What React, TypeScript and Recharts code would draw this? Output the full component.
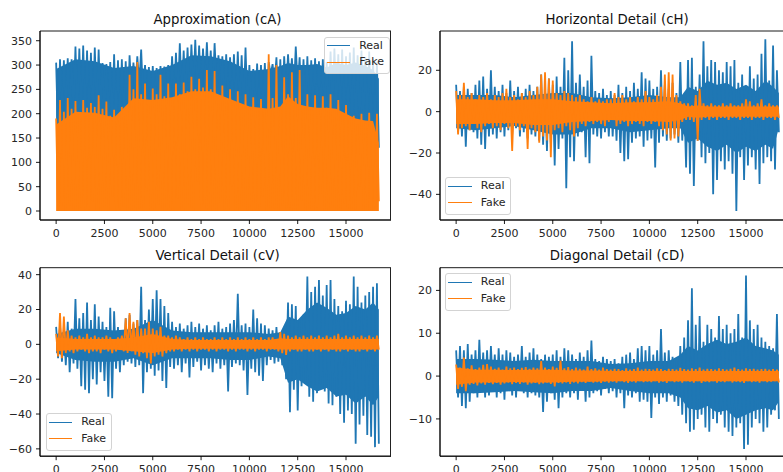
import React from 'react';
import { ComposedChart, Area, XAxis, YAxis, ReferenceArea, Legend } from 'recharts';

const FONT = '"DejaVu Sans", "Liberation Sans", sans-serif';
const REAL_COLOR = '#1f77b4';
const FAKE_COLOR = '#ff7f0e';
const TEXT = '#262626';

// each block of 200 samples is drawn as its high then its low value
const BLOCK = 200;
// sample positions where the dense core band of each signal is read
const BAND_X = [
  0, 1000, 2000, 3000, 4000, 5000, 6000, 7000, 8000, 9000, 10000, 11000, 11600,
  12000, 12500, 13000, 13500, 14000, 14500, 15000, 15500, 16000, 16400, 16700,
];

const X_TICKS = [0, 2500, 5000, 7500, 10000, 12500, 15000];
const X_DOMAIN: [number, number] = [-835, 17535];

// ---- Approximation (cA)
const cA_realHi = [
  305, 312, 310, 314, 312, 338, 334, 340, 330, 325,
  336, 332, 304, 302, 306, 322, 310, 312, 308, 320,
  305, 318, 332, 300, 296, 298, 294, 298, 297, 300,
  318, 325, 345, 330, 336, 342, 352, 340, 334, 347,
  330, 345, 320, 318, 322, 316, 322, 328, 320, 336,
  300, 292, 303, 300, 304, 306, 302, 316, 312, 318,
  322, 314, 338, 316, 312, 318, 310, 314, 308, 312,
  306, 328, 334, 322, 332, 318, 326, 336, 320, 330,
  316, 328, 312, 305,
];
const cA_realLo = [
  150, 190, 200, 196, 200, 194, 196, 190, 184, 192,
  200, 206, 198, 192, 180, 176, 176, 184, 186, 240,
  250, 260, 230, 220, 210, 220, 236, 246, 230, 222,
  224, 230, 232, 230, 238, 244, 240, 236, 250, 256,
  240, 254, 226, 222, 220, 218, 214, 212, 208, 206,
  202, 200, 204, 198, 198, 280, 260, 196, 198, 240,
  250, 240, 256, 208, 204, 206, 204, 206, 202, 204,
  202, 208, 204, 196, 190, 186, 180, 166, 170, 172,
  170, 171, 170, 130,
];
const cA_fakeHi = [
  190, 228, 204, 232, 210, 226, 200, 228, 212, 222,
  214, 238, 210, 225, 196, 208, 190, 214, 198, 280,
  250, 306, 240, 262, 220, 252, 240, 280, 236, 262,
  232, 262, 240, 264, 246, 276, 250, 272, 254, 290,
  250, 288, 232, 258, 228, 250, 224, 246, 220, 240,
  214, 234, 210, 230, 206, 322, 232, 300, 212, 275,
  240, 285, 232, 290, 214, 240, 212, 238, 210, 236,
  212, 240, 206, 228, 200, 218, 190, 196, 178, 200,
  182, 202, 176, 200,
];
const cA_fakeLo = [
  0, 4, 1, 12, 2, 0, 8, 3, 0, 20,
  2, 0, 6, 1, 30, 0, 3, 10, 0, 2,
  0, 5, 1, 40, 0, 2, 14, 0, 3, 1,
  0, 25, 2, 0, 6, 1, 60, 0, 4, 2,
  1, 0, 18, 3, 0, 45, 2, 0, 8, 1,
  0, 3, 1, 30, 0, 2, 5, 0, 12, 1,
  3, 0, 1, 22, 0, 4, 2, 0, 35, 1,
  0, 6, 2, 0, 15, 1, 0, 3, 50, 0,
  2, 0, 4, 20,
];
const cA_realBandHi = [292, 312, 308, 294, 298, 288, 300, 320, 318, 308, 288, 292, 298, 304, 300, 300, 302, 295, 304, 300, 305, 298, 290, 272];
const cA_realBandLo = [165, 190, 188, 178, 215, 212, 218, 230, 230, 215, 200, 195, 200, 220, 205, 200, 200, 198, 196, 185, 175, 172, 165, 130];
const cA_fakeBandHi = [178, 204, 202, 192, 232, 228, 234, 246, 246, 230, 215, 210, 215, 236, 220, 215, 212, 212, 210, 200, 190, 186, 185, 140];
const cA_fakeBandLo = [0, 0, 0, 0, 0, 0, 0, 0, 0, 0, 0, 0, 0, 0, 0, 0, 0, 0, 0, 0, 0, 0, 0, 0];

// ---- Horizontal Detail (cH)
const cH_realHi = [
  13, 10, 12, 11, 9, 13, 15, 17, 11, 20,
  12, 10, 13, 9, 15, 10, 12, 9, 11, 13,
  10, 12, 18, 11, 16, 13, 17, 12, 26, 20,
  34, 14, 18, 12, 15, 27, 10, 9, 11, 8,
  10, 8, 13, 9, 12, 10, 14, 11, 19, 16,
  15, 11, 12, 20, 13, 11, 14, 9, 24, 7,
  25, 26, 12, 18, 34, 22, 25, 24, 20, 19,
  24, 22, 25, 14, 18, 12, 22, 16, 18, 28,
  35, 15, 32, 20,
];
const cH_realLo = [
  -10, -12, -17, -9, -10, -13, -16, -18, -12, -11,
  -13, -10, -12, -9, -11, -8, -12, -10, -13, -11,
  -12, -14, -16, -19, -15, -26, -18, -13, -37, -22,
  -24, -12, -10, -22, -25, -11, -12, -13, -10, -12,
  -12, -14, -20, -24, -23, -15, -13, -12, -17, -14,
  -13, -27, -15, -12, -14, -13, -11, -15, -14, -27,
  -30, -36, -14, -22, -25, -20, -40, -33, -24, -28,
  -24, -30, -48, -22, -33, -26, -22, -28, -35, -25,
  -22, -24, -28, -10,
];
const cH_fakeHi = [
  10, 8, 14, 7, 9, 6, 8, 7, 9, 6,
  8, 7, 9, 11, 7, 8, 6, 9, 7, 10,
  8, 12, 18, 19, 16, 15, 9, 8, 10, 9,
  8, 7, 8, 6, 5, 7, 5, 6, 5, 6,
  6, 9, 7, 8, 6, 7, 5, 7, 6, 10,
  7, 6, 8, 12, 18, 19, 18, 8, 5, 4,
  4, 3, 8, 11, 4, 3, 4, 3, 3, 4,
  3, 4, 3, 3, 4, 6, 5, 3, 4, 6,
  3, 4, 3, 3,
];
const cH_fakeLo = [
  -11, -8, -7, -9, -6, -8, -10, -7, -6, -8,
  -7, -9, -6, -8, -19, -7, -9, -7, -18, -8,
  -10, -15, -12, -14, -22, -9, -8, -10, -7, -9,
  -12, -8, -6, -7, -5, -6, -5, -6, -7, -5,
  -4, -7, -6, -5, -7, -6, -5, -6, -7, -5,
  -6, -5, -7, -9, -11, -14, -13, -12, -5, -4,
  -4, -5, -14, -4, -3, -4, -3, -4, -3, -3,
  -4, -3, -3, -4, -3, -3, -4, -3, -3, -4,
  -3, -3, -4, -3,
];
const cH_realBandHi = [8, 8, 8, 7, 8, 9, 9, 7, 6.5, 7, 8, 7, 7, 12, 10, 15, 13, 14, 11, 13, 10, 15, 12, 9];
const cH_realBandLo = [-8, -9, -8, -7, -9, -11, -11, -8, -8, -10, -9, -8, -8, -15, -13, -17, -19, -16, -20, -17, -19, -16, -18, -8];
const cH_fakeBandHi = [6, 6, 5.5, 5.5, 6, 6, 5, 4.5, 4, 4.5, 4.5, 5, 4, 2.5, 3, 2.5, 2.5, 2.5, 2.5, 2.5, 2.5, 2.5, 2.5, 2.5];
const cH_fakeBandLo = [-6, -6, -5.5, -5.5, -6.5, -6.5, -5, -4.5, -4, -4.5, -4.5, -5, -4, -2.5, -3, -2.5, -2.5, -2.5, -2.5, -2.5, -2.5, -2.5, -2.5, -2.5];

// ---- Vertical Detail (cV)
const cV_realHi = [
  10, 11, 8, 13, 9, 26, 15, 18, 24, 14,
  23, 16, 13, 10, 21, 19, 10, 8, 15, 17,
  12, 14, 33, 14, 20, 26, 31, 26, 22, 18,
  13, 10, 12, 9, 11, 13, 10, 12, 9, 11,
  8, 11, 13, 9, 10, 12, 14, 29, 11, 12,
  10, 20, 15, 12, 11, 9, 8, 10, 7, 9,
  24, 23, 22, 14, 17, 39, 30, 33, 37, 28,
  34, 37, 26, 22, 19, 25, 23, 39, 33, 24,
  28, 30, 33, 35,
];
const cV_realLo = [
  -8, -10, -12, -16, -11, -14, -24, -26, -28, -20,
  -23, -16, -21, -30, -31, -14, -16, -12, -10, -11,
  -13, -12, -28, -16, -14, -18, -15, -21, -25, -13,
  -14, -12, -16, -11, -19, -13, -10, -15, -12, -14,
  -16, -11, -14, -12, -27, -13, -11, -12, -15, -29,
  -14, -16, -18, -21, -12, -9, -11, -10, -12, -20,
  -39, -26, -38, -24, -22, -30, -33, -28, -23, -27,
  -34, -35, -30, -40, -45, -38, -40, -57, -46, -41,
  -52, -53, -59, -57,
];
const cV_fakeHi = [
  6, 18, 16, 8, 5, 4, 5, 4, 6, 4,
  5, 4, 4, 5, 4, 3, 4, 5, 15, 18,
  13, 14, 9, 9, 13, 9, 8, 10, 5, 5,
  4, 5, 4, 3, 4, 3, 4, 3, 4, 3,
  3, 4, 3, 4, 3, 4, 3, 4, 3, 4,
  3, 4, 3, 4, 3, 4, 4, 3, 7, 6,
  5, 4, 5, 4, 5, 4, 5, 4, 5, 4,
  5, 4, 5, 6, 4, 5, 4, 5, 4, 5,
  4, 5, 4, 5,
];
const cV_fakeLo = [
  -7, -8, -5, -4, -5, -4, -3, -4, -5, -4,
  -4, -5, -3, -4, -5, -4, -3, -4, -5, -4,
  -6, -7, -5, -8, -11, -7, -6, -7, -5, -4,
  -4, -3, -4, -3, -4, -3, -4, -3, -3, -4,
  -3, -4, -3, -3, -4, -3, -4, -3, -3, -4,
  -3, -4, -3, -3, -4, -3, -3, -4, -5, -6,
  -4, -3, -4, -4, -3, -4, -4, -3, -4, -3,
  -4, -3, -4, -4, -3, -4, -3, -4, -4, -3,
  -4, -3, -4, -3,
];
const cV_realBandHi = [6, 9, 9, 8, 9, 14, 8, 7, 7, 7, 7, 6, 7, 16, 14, 20, 24, 21, 17, 18, 22, 20, 24, 20];
const cV_realBandLo = [-5, -9, -10, -10, -8, -12, -8, -8, -8, -9, -9, -7, -8, -22, -20, -24, -27, -25, -30, -29, -34, -30, -35, -30];
const cV_fakeBandHi = [4, 3, 3, 3, 4, 6, 3, 2.5, 2.5, 2.5, 2.5, 2.5, 3.5, 3, 3, 3, 3, 3, 3, 3, 3, 3, 3, 3];
const cV_fakeBandLo = [-4, -3, -3, -3, -4, -5, -3, -2.5, -2.5, -2.5, -2.5, -2.5, -3, -3, -3, -3, -3, -3, -3, -3, -3, -3, -3, -3];

// ---- Diagonal Detail (cD)
const cD_realHi = [
  6, 7, 6, 7.5, 5, 6, 8.5, 5.5, 6, 7,
  5, 6.5, 5, 6, 5.5, 4.5, 5, 7, 4.5, 5.5,
  6.5, 5, 4, 5, 4.5, 5, 6, 4.5, 6.5, 6,
  5, 4, 5.5, 4.5, 6, 8.3, 4, 3.5, 4.5, 4,
  3.5, 4, 3, 4.5, 5, 5.5, 4, 6.5, 7, 6,
  7, 5, 6, 11, 5.5, 6, 4.5, 3.5, 7, 9,
  13, 20.5, 12, 14, 8, 12, 11, 9, 14, 11,
  12, 10, 11, 14.5, 9, 23.5, 13, 11, 12, 9,
  8, 7, 6.5, 14.5,
];
const cD_realLo = [
  -5, -7, -7.5, -6, -4, -5, -3.5, -5, -4.5, -3,
  -5, -4, -5.5, -3.5, -4.5, -5, -3, -4, -5, -4,
  -4.5, -5, -8.4, -6, -4, -5.5, -7.5, -5, -4, -5,
  -4, -5.5, -3.5, -6, -5, -4, -3.5, -4.5, -3, -4,
  -3.5, -5, -4, -7.5, -4.5, -5, -4, -6, -5.5, -6,
  -9.8, -5, -6.5, -5, -6, -4.5, -6, -7, -9, -11,
  -13, -12.5, -10, -9, -12, -13, -10, -11, -9, -12,
  -13, -14, -12, -11, -17, -16, -12, -10, -11, -13,
  -12, -9, -8, -10,
];
const cD_fakeHi = [
  2.7, 2, 4.3, 1.8, 2.5, 1.6, 2, 2.6, 2.8, 2.2,
  1.7, 2, 1.5, 2.2, 1.8, 2, 1.6, 1.9, 2.1, 1.7,
  2, 1.8, 3.5, 2, 1.6, 2.2, 1.9, 3.6, 1.8, 2.1,
  1.6, 2, 1.7, 1.5, 2.2, 1.6, 1.8, 1.5, 2, 1.6,
  1.5, 1.7, 1.6, 1.4, 1.8, 1.5, 1.6, 2, 1.5, 1.7,
  1.6, 1.5, 1.8, 1.6, 1.4, 1.7, 1.6, 1.5, 1.9, 1.6,
  1.5, 1.8, 1.6, 2, 1.5, 1.7, 1.6, 1.5, 1.8, 1.6,
  1.5, 1.7, 2, 1.6, 1.5, 1.8, 1.6, 1.7, 1.5, 1.6,
  1.7, 1.5, 1.6, 1.5,
];
const cD_fakeLo = [
  -3, -2.5, -3.5, -2, -1.8, -2.2, -1.7, -2, -1.6, -1.9,
  -1.6, -2, -1.7, -1.5, -1.9, -1.6, -1.8, -1.5, -2, -1.7,
  -1.6, -1.9, -1.7, -1.5, -1.8, -2.4, -1.6, -1.7, -1.5, -1.8,
  -1.5, -1.7, -1.4, -1.6, -1.3, -1.5, -1.4, -1.6, -1.3, -1.5,
  -1.3, -1.5, -1.2, -1.4, -1.6, -1.3, -1.5, -1.2, -1.4, -1.3,
  -1.4, -1.2, -1.5, -1.3, -1.6, -1.2, -1.4, -1.3, -1.5, -1.2,
  -1.3, -1.5, -1.2, -1.6, -1.3, -1.4, -1.2, -1.5, -1.3, -1.4,
  -1.2, -1.5, -1.3, -1.4, -1.6, -1.2, -1.4, -1.3, -1.5, -1.2,
  -1.4, -1.3, -1.2, -1.5,
];
const cD_realBandHi = [4, 4, 3.8, 3.5, 3.8, 3.5, 3.5, 3.5, 2.8, 3, 3.5, 3.5, 5, 7, 6, 7.5, 8.5, 7.5, 8, 9, 7, 6.5, 6, 5];
const cD_realBandLo = [-4, -4, -3.8, -3.5, -3.8, -4, -3.5, -3.5, -2.8, -3.5, -4, -4, -5, -7.5, -8, -7, -8.5, -8, -10, -9, -8, -7.5, -8, -6];
const cD_fakeBandHi = [2, 1.5, 1.5, 1.4, 1.5, 1.5, 1.3, 1.3, 1.2, 1.2, 1.2, 1.2, 1.2, 1.2, 1.2, 1.2, 1.2, 1.2, 1.2, 1.2, 1.2, 1.2, 1.2, 1.2];
const cD_fakeBandLo = [-2, -1.5, -1.5, -1.4, -1.5, -1.5, -1.3, -1.3, -1.2, -1.2, -1.2, -1.2, -1.2, -1.2, -1.2, -1.2, -1.2, -1.2, -1.2, -1.2, -1.2, -1.2, -1.2, -1.2];

const SERIES = [
  { key: 'real', name: 'Real', color: REAL_COLOR },
  { key: 'fake', name: 'Fake', color: FAKE_COLOR },
];

type Row = { x: number; real: number; fake: number; realBand: (number | null)[]; fakeBand: (number | null)[] };

function buildRows(
  realHi: number[], realLo: number[], fakeHi: number[], fakeLo: number[],
  realBandHi: number[], realBandLo: number[], fakeBandHi: number[], fakeBandLo: number[],
) {
  const rows: Row[] = [];
  realHi.forEach((v, i) => {
    rows.push({ x: i * BLOCK, real: v, fake: fakeHi[i], realBand: [null, null], fakeBand: [null, null] });
    rows.push({ x: i * BLOCK + BLOCK / 2, real: realLo[i], fake: fakeLo[i], realBand: [null, null], fakeBand: [null, null] });
  });
  BAND_X.forEach((bx, k) => {
    const row = rows.find((r) => r.x === bx);
    if (row) {
      row.realBand = [realBandLo[k], realBandHi[k]];
      row.fakeBand = [fakeBandLo[k], fakeBandHi[k]];
    }
  });
  return rows;
}

const PANELS = [
  {
    title: 'Approximation (cA)',
    left: 0, top: 0, clipW: 391, marginTop: 31, plotH: 189,
    rows: buildRows(cA_realHi, cA_realLo, cA_fakeHi, cA_fakeLo, cA_realBandHi, cA_realBandLo, cA_fakeBandHi, cA_fakeBandLo),
    yDomain: [-18.5, 370], yTicks: [0, 50, 100, 150, 200, 250, 300, 350],
    legend: { left: 323.5, top: 36.5 },
  },
  {
    title: 'Horizontal Detail (cH)',
    left: 399.6, top: 0, clipW: 400, marginTop: 31, plotH: 189,
    rows: buildRows(cH_realHi, cH_realLo, cH_fakeHi, cH_fakeLo, cH_realBandHi, cH_realBandLo, cH_fakeBandHi, cH_fakeBandLo),
    yDomain: [-52.4, 39], yTicks: [-40, -20, 0, 20],
    legend: { left: 45.5, top: 177 },
  },
  {
    title: 'Vertical Detail (cV)',
    left: 0, top: 236, clipW: 391, marginTop: 31.7, plotH: 188.5,
    rows: buildRows(cV_realHi, cV_realLo, cV_fakeHi, cV_fakeLo, cV_realBandHi, cV_realBandLo, cV_fakeBandHi, cV_fakeBandLo),
    yDomain: [-64.2, 44], yTicks: [-60, -40, -20, 0, 20, 40],
    legend: { left: 45.5, top: 177 },
  },
  {
    title: 'Diagonal Detail (cD)',
    left: 399.6, top: 236, clipW: 400, marginTop: 31.7, plotH: 188.5,
    rows: buildRows(cD_realHi, cD_realLo, cD_fakeHi, cD_fakeLo, cD_realBandHi, cD_realBandLo, cD_fakeBandHi, cD_fakeBandLo),
    yDomain: [-18.7, 25.3], yTicks: [-10, 0, 10, 20],
    legend: { left: 45.5, top: 37.2 },
  },
];

const PLOT_W = 355;
const Y_AXIS_W = 40;
const X_AXIS_H = 30;

const minusFmt = (v: number) => (v < 0 ? '\u2212' + Math.abs(v) : String(v));

const renderLegend = () => (
  <div
    style={{
      position: 'relative', width: 66, height: 37.5, boxSizing: 'border-box',
      border: '1px solid #d3d3d3', borderRadius: 3, background: 'rgba(255,255,255,0.8)',
      fontFamily: FONT, fontSize: 11, color: TEXT,
    }}
  >
    {SERIES.map((s, i) => (
      <div
        key={s.key}
        style={{ position: 'absolute', left: 2.3, top: 1 + i * 16.6, height: 14, display: 'flex', alignItems: 'center', whiteSpace: 'nowrap' }}
      >
        <span style={{ display: 'inline-block', width: 23.4, height: 0, borderTop: `1.6px solid ${s.color}` }} />
        <span style={{ marginLeft: 9, lineHeight: '14px' }}>{s.name}</span>
      </div>
    ))}
  </div>
);

function Panel({ p }: { p: (typeof PANELS)[number] }) {
  const chartH = p.marginTop + p.plotH + X_AXIS_H;
  return (
    <div style={{ position: 'absolute', left: p.left, top: p.top, width: p.clipW, height: chartH, overflow: 'hidden' }}>
      <div
        style={{
          position: 'absolute', left: Y_AXIS_W, top: 12, width: PLOT_W, textAlign: 'center',
          fontFamily: FONT, fontSize: 13.3, lineHeight: '16px', color: '#111', whiteSpace: 'nowrap',
        }}
      >
        {p.title}
      </div>
      <ComposedChart
        width={Y_AXIS_W + PLOT_W}
        height={chartH}
        data={p.rows}
        margin={{ top: p.marginTop, right: 0, bottom: 0, left: 0 }}
        style={{ fontFamily: FONT }}
      >
        <XAxis
          dataKey="x" type="number" domain={X_DOMAIN} ticks={X_TICKS} allowDataOverflow interval={0}
          height={X_AXIS_H} tickSize={4} tickMargin={5}
          axisLine={{ stroke: '#000', strokeWidth: 0.9 }} tickLine={{ stroke: '#000', strokeWidth: 0.9 }}
          tick={{ fontSize: 11, fill: TEXT, fontFamily: FONT }}
        />
        <YAxis
          type="number" domain={p.yDomain} ticks={p.yTicks} allowDataOverflow interval={0}
          width={Y_AXIS_W} tickSize={4} tickMargin={4} tickFormatter={minusFmt}
          axisLine={{ stroke: '#000', strokeWidth: 0.9 }} tickLine={{ stroke: '#000', strokeWidth: 0.9 }}
          tick={{ fontSize: 11, fill: TEXT, fontFamily: FONT }}
        />
        {SERIES.flatMap((s) => [
          <Area
            key={s.key + 'Band'} type="linear" dataKey={s.key + 'Band'} connectNulls
            stroke="none" fill={s.color} fillOpacity={1} dot={false} activeDot={false}
            legendType="none" isAnimationActive={false}
          />,
          <Area
            key={s.key} type="linear" dataKey={s.key} name={s.name} stroke={s.color} strokeWidth={1.8}
            fill="none" fillOpacity={0} dot={false} activeDot={false} isAnimationActive={false}
          />,
        ])}
        <ReferenceArea
          x1={X_DOMAIN[0]} x2={X_DOMAIN[1]} y1={p.yDomain[0]} y2={p.yDomain[1]}
          fill="none" fillOpacity={0} stroke="#000" strokeWidth={0.9} ifOverflow="visible"
        />
        <Legend
          layout="horizontal" verticalAlign="middle" align="center"
          wrapperStyle={{ left: p.legend.left, top: p.legend.top, width: 66, height: 37.5 }}
          content={renderLegend}
        />
      </ComposedChart>
      {p.clipW < Y_AXIS_W + PLOT_W && (
        <div style={{ position: 'absolute', left: p.clipW - 1, top: p.marginTop, width: 1, height: p.plotH, background: '#222' }} />
      )}
    </div>
  );
}

export default function App() {
  return (
    <div style={{ position: 'fixed', left: 0, top: 0, width: 783, height: 472, overflow: 'hidden', background: '#fff' }}>
      {PANELS.map((p) => (
        <Panel key={p.title} p={p} />
      ))}
    </div>
  );
}
